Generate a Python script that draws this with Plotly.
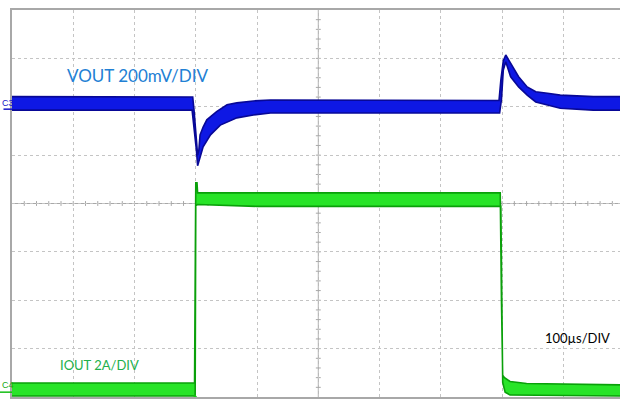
import numpy as np
import plotly.graph_objects as go

# time in microseconds (100 us / division), amplitude in screen divisions (0 = bottom, 8 = top)
vout_up_t = [0, 294, 295, 297, 299, 301, 303, 305, 307, 312, 318, 334, 351, 367, 394, 422, 795, 798, 802, 806, 814, 827, 841, 855, 874, 895, 949, 1000]
vout_up_y = [6.21, 6.21, 6.20, 5.95, 5.66, 5.31, 5.00, 5.10, 5.42, 5.58, 5.73, 5.90, 6.04, 6.08, 6.12, 6.14, 6.13, 6.55, 6.95, 7.07, 6.90, 6.62, 6.41, 6.31, 6.28, 6.24, 6.21, 6.21]
vout_lo_t = [0, 294, 297, 301, 303, 307, 312, 324, 340, 367, 394, 422, 475, 796, 799, 802, 806, 814, 827, 841, 855, 874, 895, 949, 1000]
vout_lo_y = [5.93, 5.93, 5.62, 5.11, 4.78, 4.94, 5.17, 5.42, 5.62, 5.77, 5.83, 5.87, 5.88, 5.87, 6.15, 6.76, 6.93, 6.62, 6.41, 6.24, 6.10, 6.04, 5.97, 5.93, 5.93]

iout_up_t = [0, 297, 298, 300, 302, 303, 797, 799, 801, 804, 813, 840, 895, 1000]
iout_up_y = [0.29, 0.29, 0.29, 4.43, 4.43, 4.22, 4.22, 2.00, 0.45, 0.40, 0.32, 0.28, 0.27, 0.25]
iout_lo_t = [0, 299, 300, 303, 400, 798, 801, 805, 813, 1000]
iout_lo_y = [0.02, 0.02, 3.96, 3.98, 3.94, 3.94, 0.30, 0.10, 0.04, 0.02]

labels = ["VOUT 200mV/DIV", "IOUT 2A/DIV", "100\u00b5s/DIV"]
channel_tags = ["C3", "C4"]

X_MAX = 992.5
fig = go.Figure()


def band(t_up, y_up, t_lo, y_lo, fill, edge):
    xs = np.concatenate([t_up, t_lo[::-1]])
    ys = np.concatenate([y_up, y_lo[::-1]])
    fig.add_trace(go.Scatter(x=xs, y=ys, mode="lines", fill="toself", fillcolor=fill,
                             line=dict(color=edge, width=1.6), hoverinfo="skip", showlegend=False))


band(vout_up_t, vout_up_y, vout_lo_t, vout_lo_y, "rgb(14,24,228)", "rgb(8,8,150)")
band(iout_up_t, iout_up_y, iout_lo_t, iout_lo_y, "rgb(40,228,40)", "rgb(10,160,10)")

# trigger marker
fig.add_trace(go.Scatter(x=[iout_lo_t[1]], y=[0], mode="markers", cliponaxis=False,
                         marker=dict(symbol="triangle-up", size=5, color="rgb(20,200,20)"),
                         hoverinfo="skip", showlegend=False))

shapes = []
grey = "#a8a8a8"
# centre cross-hair
shapes.append(dict(type="line", x0=500, x1=500, y0=0, y1=8, line=dict(color=grey, width=1), layer="below"))
shapes.append(dict(type="line", x0=0, x1=X_MAX, y0=4, y1=4, line=dict(color=grey, width=1), layer="below"))
for k in range(1, 50):
    tx = k * 20
    if tx > X_MAX:
        break
    shapes.append(dict(type="line", x0=tx, x1=tx, y0=4 - 0.05, y1=4 + 0.05,
                       line=dict(color=grey, width=1), layer="below"))
for k in range(1, 40):
    ty = k * 0.2
    shapes.append(dict(type="line", x0=500 - 4, x1=500 + 4, y0=ty, y1=ty,
                       line=dict(color=grey, width=1), layer="below"))
# channel markers on left
shapes.append(dict(type="line", xref="paper", x0=-0.014, x1=0, y0=5.95, y1=5.95,
                   line=dict(color="rgb(20,20,200)", width=1.5)))
shapes.append(dict(type="line", xref="paper", x0=-0.02, x1=0, y0=0.10, y1=0.10,
                   line=dict(color="rgb(20,190,20)", width=1.5)))

annotations = [
    dict(x=87, y=6.64, text=labels[0], showarrow=False, xanchor="left", yanchor="middle",
         font=dict(family="Lato, sans-serif", size=17, color="rgb(34,128,212)")),
    dict(x=75, y=0.66, text=labels[1], showarrow=False, xanchor="left", yanchor="middle",
         font=dict(family="Lato, sans-serif", size=13, color="rgb(34,176,76)")),
    dict(x=867, y=1.21, text=labels[2], showarrow=False, xanchor="left", yanchor="middle",
         font=dict(family="Lato, sans-serif", size=13, color="black")),
    dict(xref="paper", x=-0.02, y=6.07, text=channel_tags[0], showarrow=False, xanchor="left",
         yanchor="middle", font=dict(family="Liberation Sans Narrow, Liberation Sans", size=9, color="rgb(20,20,200)")),
    dict(xref="paper", x=-0.02, y=0.24, text=channel_tags[1], showarrow=False, xanchor="left",
         yanchor="middle", font=dict(family="Liberation Sans Narrow, Liberation Sans", size=9, color="rgb(20,170,20)")),
]

fig.update_layout(
    width=620, height=399,
    margin=dict(l=12, r=0, t=10, b=2),
    paper_bgcolor="white", plot_bgcolor="white",
    shapes=shapes, annotations=annotations, showlegend=False,
    xaxis=dict(range=[0, X_MAX], tick0=0, dtick=100, showgrid=True, gridcolor="#c4c4c4",
               griddash="dot", gridwidth=1, zeroline=False, showline=True, linecolor=grey,
               linewidth=1.5, mirror=True, showticklabels=False, ticks="", fixedrange=True),
    yaxis=dict(range=[0, 8], tick0=0, dtick=1, showgrid=True, gridcolor="#c4c4c4",
               griddash="dot", gridwidth=1, zeroline=False, showline=True, linecolor=grey,
               linewidth=1.5, mirror=False, showticklabels=False, ticks="", fixedrange=True),
)

fig.write_html(
    "out.html",
    config={"displayModeBar": False},
    post_script="document.body.style.margin='0';document.body.style.padding='0';document.body.style.overflow='hidden';",
)
